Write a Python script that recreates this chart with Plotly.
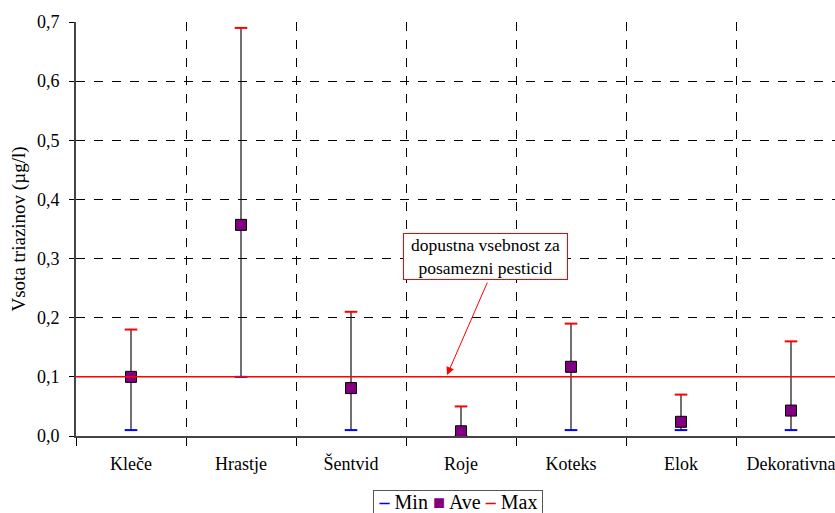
import plotly.graph_objects as go

# Sampling sites and triazine sums (µg/l)
sites = ["Kleče", "Hrastje", "Šentvid", "Roje", "Koteks", "Elok", "Dekorativna"]
min_vals = [0.01, 0.10, 0.01, 0.0, 0.01, 0.01, 0.01]
ave_vals = [0.10, 0.357, 0.081, 0.008, 0.117, 0.024, 0.043]
max_vals = [0.18, 0.69, 0.21, 0.05, 0.19, 0.07, 0.16]
limit_value = 0.1
y_ticks = [0.0, 0.1, 0.2, 0.3, 0.4, 0.5, 0.6, 0.7]

FONT = "Liberation Serif"

fig = go.Figure()

# vertical range lines from min to max
vx, vy = [], []
for s, lo, hi in zip(sites, min_vals, max_vals):
    vx += [s, s, None]
    vy += [lo, hi, None]
fig.add_trace(go.Scatter(x=vx, y=vy, mode="lines", line=dict(color="#111111", width=1.2),
                         showlegend=False, hoverinfo="skip"))

fig.add_trace(go.Scatter(x=sites, y=min_vals, mode="markers", name="Min",
                         marker=dict(symbol="line-ew", size=9,
                                     line=dict(color="#0000ff", width=2))))
fig.add_trace(go.Scatter(x=sites, y=ave_vals, mode="markers", name="Ave",
                         marker=dict(symbol="square", size=11, color="#800080",
                                     line=dict(color="black", width=1))))
fig.add_trace(go.Scatter(x=sites, y=max_vals, mode="markers", name="Max",
                         marker=dict(symbol="line-ew", size=9,
                                     line=dict(color="#ff0000", width=2))))

# permitted limit for a single pesticide
fig.add_shape(type="line", xref="paper", x0=0, x1=1, yref="y", y0=limit_value, y1=limit_value,
              line=dict(color="#ff0000", width=1.5), layer="above")

fig.add_annotation(x=3.223, y=0.3035, xref="x", yref="y", showarrow=False,
                   text="dopustna vsebnost za<br>posamezni pesticid",
                   font=dict(family=FONT, size=17.5, color="black"),
                   width=161, height=43, align="center",
                   bgcolor="white", bordercolor="#ff0000", borderwidth=1, borderpad=1)
fig.add_annotation(x=2.873, y=0.103, xref="x", yref="y",
                   ax=3.245, ay=0.262, axref="x", ayref="y", text="",
                   showarrow=True, arrowhead=2, arrowsize=1.6, arrowwidth=1,
                   arrowcolor="#ff0000")

# legend box below the plot
legend_text = ('<span style="color:#0000ff"><b>–</b></span> Min '
               '<span style="color:#800080">■</span> Ave '
               '<span style="color:#ff0000"><b>–</b></span> Max')
fig.add_annotation(x=0.503, y=-0.1304, xref="paper", yref="paper", xanchor="center",
                   yanchor="top", showarrow=False, text=legend_text,
                   font=dict(family=FONT, size=20, color="black"),
                   width=168, height=30, valign="top",
                   bgcolor="white", bordercolor="#555555", borderwidth=1, borderpad=0)

fig.update_layout(
    width=835, height=513,
    margin=dict(l=76, r=0, t=22, b=77, autoexpand=False),
    paper_bgcolor="white", plot_bgcolor="white",
    separators=", ",
    font=dict(family=FONT, size=18, color="black"),
    showlegend=False,
    xaxis=dict(type="category", categoryorder="array", categoryarray=sites,
               range=[-0.5, 6.4], tickson="boundaries", ticks="outside", ticklen=8,
               tickcolor="black", showgrid=True, gridcolor="black", griddash="dash",
               gridwidth=1, showline=True, linecolor="#444444", linewidth=2,
               ticklabelstandoff=10, tickfont=dict(size=18), automargin=False),
    yaxis=dict(range=[0, 0.7], tickvals=y_ticks, tickformat=".1f", ticks="outside",
               ticklen=5, tickcolor="black", showgrid=True, gridcolor="black",
               griddash="dash", gridwidth=1, showline=True, linecolor="#444444",
               linewidth=2, zeroline=False, ticklabelstandoff=6, automargin=False,
               title=dict(text="Vsota triazinov (µg/l)", font=dict(size=19), standoff=6),
               tickfont=dict(size=18)),
)

fig.write_html("out.html")
